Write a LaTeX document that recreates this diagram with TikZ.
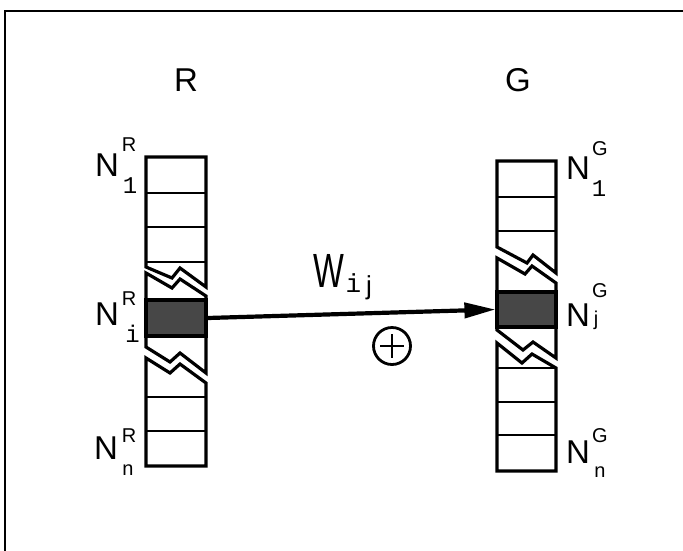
\documentclass[tikz,border=0pt]{standalone}
\usepackage{fontspec}
\setmainfont{Liberation Sans}
\newfontfamily\monof{Liberation Mono}
\usetikzlibrary{arrows.meta}
\tikzset{
  colbox/.style={line width=3.2pt, line join=miter},
  cellline/.style={line width=2.8pt},
  darkcell/.style={draw, fill=black!72, line width=3.2pt, inner sep=0pt},
  biglab/.style={font=\fontsize{33}{33}\selectfont, inner sep=0pt, anchor=base},
  suplab/.style={font=\fontsize{20}{20}\selectfont, inner sep=0pt, anchor=base},
  submono/.style={font=\monof\fontsize{24}{24}\selectfont, inner sep=0pt, anchor=base},
  subsans/.style={font=\fontsize{20}{20}\selectfont, inner sep=0pt, anchor=base},
  linkarrow/.style={line width=4.2pt, -{Triangle[length=31pt,width=15pt]}}
}
\begin{document}
\begin{tikzpicture}[x=1pt,y=-1pt]
\useasboundingbox (0,0) rectangle (683,550);
% frame
\draw[line width=1.8pt] (5,552) -- (5,11) -- (685,11);

% ---------- column R ----------
\draw[colbox] (146,157) -- (206,157) -- (206,287) -- (180,268) -- (172,278) -- (146,267) -- cycle;
\draw[cellline] (146,193) -- (206,193);
\draw[cellline] (146,227) -- (206,227);
\draw[cellline] (146,262) -- (206,262);
\draw[colbox] (146,273) -- (172,288) -- (180,279) -- (206,296) -- (206,373) -- (180,353) -- (170,362) -- (146,347) -- cycle;
\node[darkcell, minimum width=60pt, minimum height=36pt] (Ri) at (176,318) {};
\draw[colbox] (146,358) -- (170,373) -- (180,364) -- (206,383) -- (206,466) -- (146,466) -- cycle;
\draw[cellline] (146,397) -- (206,397);
\draw[cellline] (146,431) -- (206,431);

% ---------- column G ----------
\draw[colbox] (497,161) -- (556,161) -- (556,273) -- (533,255) -- (527,263) -- (497,247) -- cycle;
\draw[cellline] (497,197) -- (556,197);
\draw[cellline] (497,231) -- (556,231);
\draw[colbox] (497,258) -- (525,274) -- (532,266) -- (556,283) -- (556,358) -- (533,342) -- (523,350) -- (497,330) -- cycle;
\node[darkcell, minimum width=59pt, minimum height=35pt] (Gj) at (526.5,309.5) {};
\draw[colbox] (497,343) -- (522,363) -- (532,354) -- (556,368) -- (556,471) -- (497,471) -- cycle;
\draw[cellline] (497,368) -- (556,368);
\draw[cellline] (497,402) -- (556,402);
\draw[cellline] (497,435) -- (556,435);

% ---------- titles ----------
\node[biglab] (tR) at (186,91) {R};
\node[biglab] (tG) at (518,91) {G};

% ---------- R labels ----------
\node[biglab] (n1R) at (107,176) {N};
\node[suplab] (n1Rs) at (129,151) {R};
\node[submono] (n1Rb) at (130,193) {1};
\node[biglab] (niR) at (107,325) {N};
\node[suplab] (niRs) at (129,305) {R};
\node[submono] (niRb) at (132.5,342) {i};
\node[biglab] (nnR) at (106,459) {N};
\node[suplab] (nnRs) at (129,442) {R};
\node[subsans] (nnRb) at (128,475) {n};

% ---------- G labels ----------
\node[biglab] (n1G) at (578,179) {N};
\node[suplab] (n1Gs) at (600,155) {G};
\node[submono] (n1Gb) at (599,196) {1};
\node[biglab] (njG) at (578,326) {N};
\node[suplab] (njGs) at (600,297) {G};
\node[subsans] (njGb) at (596,325) {j};
\node[biglab] (nnG) at (578,463) {N};
\node[suplab] (nnGs) at (600,442) {G};
\node[subsans] (nnGb) at (600,477) {n};

% ---------- connection ----------
\draw[linkarrow] (Ri.east) -- (Gj.west);
\node[font=\fontsize{48}{48}\selectfont, inner sep=0pt, anchor=base] (W) at (329,287) {\scalebox{0.68}[1]{W}};
\node[font=\monof\fontsize{26}{26}\selectfont, inner sep=0pt, anchor=base] (Wi) at (353.5,292) {i};
\node[font=\fontsize{26}{26}\selectfont, inner sep=0pt, anchor=base] (Wj) at (369,294) {j};

% ---------- plus sign ----------
\node[draw, circle, line width=2.8pt, minimum size=37pt, inner sep=0pt] (plus) at (392,346) {};
\draw[line width=2.4pt] ([yshift=12pt]plus.center) -- ([yshift=-12pt]plus.center);
\draw[line width=2.4pt] ([xshift=-12pt]plus.center) -- ([xshift=12pt]plus.center);
\end{tikzpicture}
\end{document}
